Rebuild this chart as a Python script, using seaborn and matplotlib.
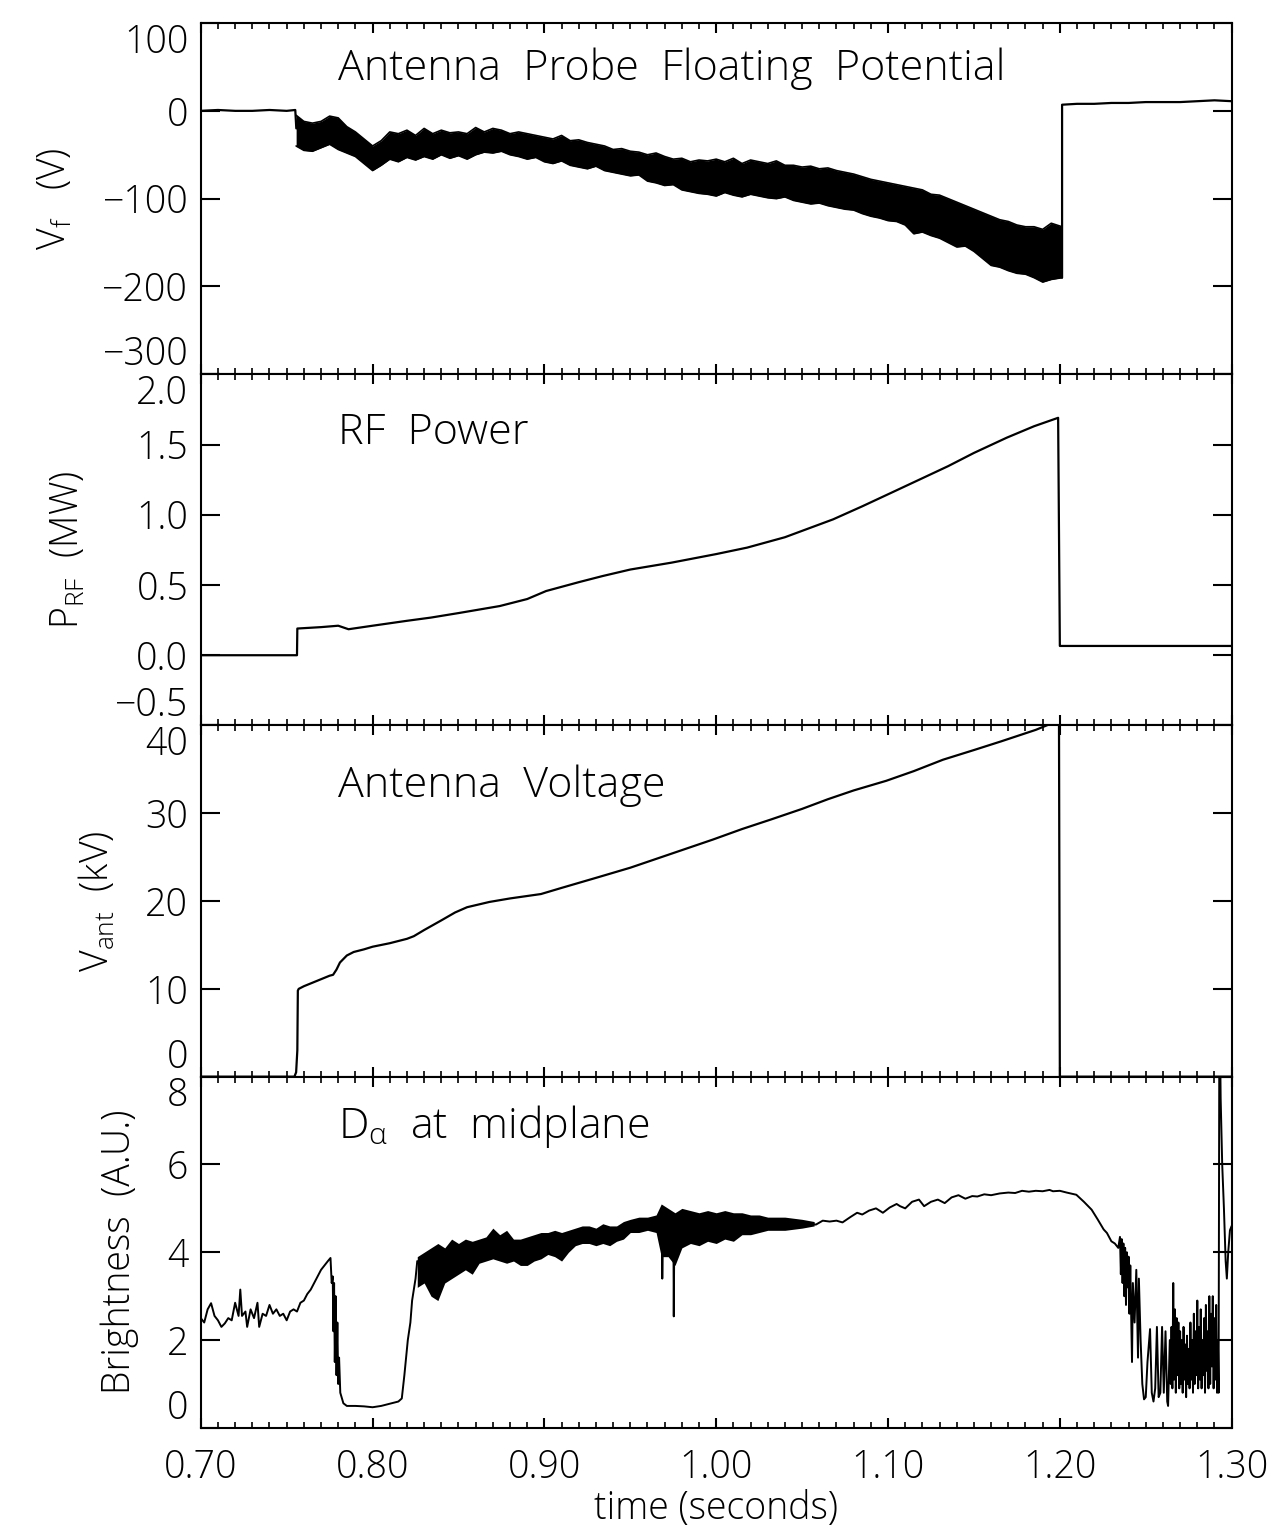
import numpy as np
import matplotlib
matplotlib.use("Agg")
import matplotlib.pyplot as plt
import seaborn as sns

# ---- data ----
# panel 1: antenna probe floating potential (V)
vf_pre_t = [0.700, 0.710, 0.720, 0.730, 0.740, 0.750, 0.7550, 0.7556]
vf_pre_v = [0, 1, 0, 0, 1, 0, 1, -20]
vf_post_t = [1.2013, 1.2013, 1.210, 1.220, 1.230, 1.240, 1.250, 1.260, 1.270, 1.280, 1.290, 1.300]
vf_post_v = [-190, 7, 8, 8, 9, 9, 10, 10, 10, 11, 12, 11]
# noise envelope of the floating potential while RF is on
vf_band_t = [0.7555, 0.760, 0.765, 0.770, 0.775, 0.780, 0.785, 0.790, 0.795, 0.800,
             0.805, 0.810, 0.815, 0.820, 0.825, 0.830, 0.835, 0.840, 0.845, 0.850,
             0.855, 0.860, 0.865, 0.870, 0.875, 0.880, 0.885, 0.890, 0.895, 0.900,
             0.905, 0.910, 0.915, 0.920, 0.925, 0.930, 0.935, 0.940, 0.945, 0.950,
             0.955, 0.960, 0.965, 0.970, 0.975, 0.980, 0.985, 0.990, 0.995, 1.000,
             1.005, 1.010, 1.015, 1.020, 1.025, 1.030, 1.035, 1.040, 1.045, 1.050,
             1.055, 1.060, 1.065, 1.070, 1.075, 1.080, 1.085, 1.090, 1.095, 1.100,
             1.105, 1.110, 1.115, 1.120, 1.125, 1.130, 1.135, 1.140, 1.145, 1.150,
             1.155, 1.160, 1.165, 1.170, 1.175, 1.180, 1.185, 1.190, 1.195, 1.2013]
vf_band_lo = [-40, -45, -46, -42, -38, -44, -48, -52, -60, -68,
              -62, -55, -58, -53, -56, -52, -55, -50, -54, -51,
              -55, -50, -47, -48, -46, -50, -52, -55, -53, -58,
              -60, -57, -62, -64, -66, -63, -68, -70, -72, -74,
              -73, -80, -82, -85, -84, -90, -92, -94, -95, -97,
              -93, -96, -98, -95, -97, -99, -100, -98, -102, -104,
              -106, -105, -108, -110, -112, -113, -117, -120, -122, -125,
              -126, -130, -140, -138, -142, -145, -150, -155, -154, -160,
              -168, -176, -178, -182, -185, -186, -190, -195, -192, -190]
vf_band_hi = [-5, -12, -14, -12, -6, -8, -18, -24, -32, -40,
              -34, -24, -26, -22, -28, -20, -26, -22, -25, -24,
              -26, -19, -24, -20, -22, -26, -24, -26, -28, -30,
              -32, -28, -34, -33, -36, -38, -40, -44, -43, -46,
              -47, -50, -48, -52, -55, -54, -58, -56, -57, -55,
              -58, -54, -60, -56, -58, -60, -57, -62, -62, -64,
              -63, -66, -65, -68, -70, -72, -75, -78, -80, -82,
              -84, -86, -88, -90, -95, -96, -100, -104, -108, -112,
              -116, -120, -124, -126, -130, -132, -132, -135, -128, -132]

# panel 2: RF power (MW)
rf_t = [0.700, 0.7560, 0.7562, 0.770, 0.780, 0.786, 0.800, 0.820, 0.834, 0.850,
        0.874, 0.890, 0.901, 0.920, 0.934, 0.950, 0.974, 1.000, 1.018, 1.040,
        1.068, 1.085, 1.102, 1.120, 1.135, 1.150, 1.169, 1.185, 1.199, 1.2000, 1.300]
rf_v = [0.00, 0.00, 0.19, 0.20, 0.21, 0.185, 0.21, 0.245, 0.268, 0.30,
        0.35, 0.40, 0.457, 0.52, 0.564, 0.61, 0.659, 0.72, 0.766, 0.84,
        0.967, 1.06, 1.157, 1.26, 1.346, 1.44, 1.548, 1.63, 1.69, 0.066, 0.066]

# panel 3: antenna voltage (kV)
va_t = [0.700, 0.7545, 0.7555, 0.7562, 0.7565, 0.757, 0.760, 0.765, 0.770, 0.775,
        0.777, 0.779, 0.781, 0.785, 0.789, 0.795, 0.800, 0.810, 0.820, 0.824,
        0.830, 0.840, 0.848, 0.855, 0.868, 0.880, 0.898, 0.910, 0.931, 0.950,
        0.965, 0.980, 0.998, 1.015, 1.032, 1.050, 1.065, 1.080, 1.099, 1.115,
        1.132, 1.150, 1.166, 1.186, 1.196, 1.1995, 1.2000, 1.300]
va_v = [0.0, 0.0, 0.5, 3.0, 9.8, 10.0, 10.3, 10.7, 11.1, 11.5,
        11.6, 12.2, 13.0, 13.8, 14.2, 14.5, 14.8, 15.2, 15.7, 16.0,
        16.7, 17.8, 18.7, 19.3, 19.9, 20.3, 20.8, 21.5, 22.7, 23.8,
        24.8, 25.8, 27.0, 28.2, 29.3, 30.5, 31.6, 32.6, 33.7, 34.8,
        36.1, 37.2, 38.2, 39.5, 40.3, 40.5, 0.0, 0.0]

# panel 4: D-alpha brightness at midplane (A.U.)
da_t = [0.700, 0.702, 0.704, 0.706, 0.708, 0.710, 0.712, 0.714, 0.716, 0.718,
        0.720, 0.722, 0.723, 0.724, 0.726, 0.727, 0.729, 0.731, 0.733, 0.734,
        0.736, 0.738, 0.740, 0.742, 0.744, 0.746, 0.748, 0.750, 0.752, 0.754,
        0.756, 0.758, 0.760, 0.762, 0.764, 0.766, 0.768, 0.770, 0.772, 0.774,
        0.7755, 0.7762, 0.7768, 0.7772, 0.7776, 0.7780, 0.7785, 0.7790, 0.7795, 0.7800,
        0.7805, 0.7812, 0.7830, 0.785, 0.790, 0.795, 0.800, 0.805, 0.810, 0.815,
        0.817, 0.8185, 0.8205, 0.8220, 0.8230, 0.8250, 0.8260, 0.830, 0.835, 0.840,
        0.845, 0.850, 0.855, 0.860, 0.865, 0.870, 0.875, 0.880, 0.885, 0.890,
        0.895, 0.900, 0.905, 0.910, 0.915, 0.920, 0.925, 0.930, 0.935, 0.940,
        0.945, 0.950, 0.955, 0.960, 0.965, 0.9684, 0.9686, 0.9690, 0.9720, 0.9751,
        0.9753, 0.9756, 0.980, 0.985, 0.990, 0.995, 1.000, 1.005, 1.010, 1.015,
        1.020, 1.025, 1.030, 1.035, 1.040, 1.045, 1.050, 1.055, 1.058, 1.062,
        1.066, 1.070, 1.0735, 1.078, 1.082, 1.085, 1.089, 1.093, 1.097, 1.101,
        1.105, 1.107, 1.110, 1.114, 1.118, 1.121, 1.125, 1.129, 1.133, 1.137,
        1.141, 1.145, 1.149, 1.152, 1.156, 1.160, 1.165, 1.170, 1.174, 1.178,
        1.182, 1.186, 1.190, 1.194, 1.196, 1.200, 1.204, 1.2096, 1.214, 1.2185,
        1.222, 1.2255, 1.2274, 1.230, 1.232, 1.234, 1.2350, 1.2355, 1.2360, 1.2365,
        1.2370, 1.2375, 1.2380, 1.2385, 1.2390, 1.2395, 1.2400, 1.2405, 1.2410, 1.2420,
        1.2425, 1.2435, 1.2445, 1.2455, 1.2460, 1.2470, 1.2480, 1.2490, 1.2500, 1.2510,
        1.2525, 1.2535, 1.2545, 1.2555, 1.2565, 1.2575, 1.2585, 1.2595, 1.2605, 1.2615,
        1.2625, 1.2630, 1.2640, 1.2645, 1.2650, 1.2655, 1.2660, 1.2665, 1.2670, 1.2675,
        1.2680, 1.2685, 1.2690, 1.2695, 1.2700, 1.2705, 1.2710, 1.2715, 1.2720, 1.2725,
        1.2730, 1.2735, 1.2740, 1.2745, 1.2750, 1.2755, 1.2760, 1.2765, 1.2770, 1.2775,
        1.2780, 1.2785, 1.2790, 1.2795, 1.2800, 1.2805, 1.2810, 1.2815, 1.2820, 1.2825,
        1.2830, 1.2835, 1.2840, 1.2845, 1.2850, 1.2855, 1.2860, 1.2865, 1.2870, 1.2875,
        1.2880, 1.2885, 1.2890, 1.2895, 1.2900, 1.2905, 1.2910, 1.2915, 1.2920, 1.2924,
        1.2928, 1.2933, 1.2936, 1.2945, 1.2955, 1.2965, 1.2972, 1.2980, 1.2990, 1.3000]
da_v = [2.50, 2.40, 2.70, 2.84, 2.55, 2.45, 2.30, 2.38, 2.50, 2.45,
        2.85, 2.55, 3.15, 2.55, 2.65, 2.30, 2.70, 2.50, 2.85, 2.30,
        2.60, 2.55, 2.80, 2.60, 2.70, 2.55, 2.60, 2.45, 2.65, 2.70,
        2.65, 2.85, 2.90, 3.05, 3.15, 3.30, 3.45, 3.60, 3.70, 3.80,
        3.87, 3.30, 3.45, 2.20, 3.30, 1.50, 3.00, 1.20, 2.40, 1.00,
        1.60, 0.80, 0.56, 0.50, 0.50, 0.49, 0.47, 0.50, 0.55, 0.60,
        0.67, 1.20, 2.00, 2.40, 2.90, 3.40, 3.80, 3.55, 3.60, 3.70,
        3.75, 3.85, 3.90, 4.00, 4.05, 4.10, 4.15, 4.00, 4.05, 4.05,
        4.10, 4.20, 4.15, 4.20, 4.25, 4.35, 4.40, 4.35, 4.40, 4.35,
        4.45, 4.55, 4.60, 4.60, 4.65, 4.60, 3.40, 4.60, 4.50, 4.40,
        2.54, 4.40, 4.55, 4.50, 4.60, 4.60, 4.55, 4.65, 4.60, 4.70,
        4.65, 4.60, 4.65, 4.60, 4.62, 4.65, 4.60, 4.65, 4.63, 4.72,
        4.70, 4.72, 4.68, 4.80, 4.90, 4.86, 4.95, 5.00, 4.90, 5.02,
        5.10, 5.05, 5.00, 5.15, 5.20, 5.05, 5.15, 5.20, 5.12, 5.25,
        5.30, 5.22, 5.28, 5.27, 5.32, 5.30, 5.34, 5.36, 5.35, 5.40,
        5.38, 5.40, 5.39, 5.42, 5.39, 5.40, 5.36, 5.31, 5.15, 4.97,
        4.75, 4.52, 4.44, 4.25, 4.20, 4.10, 4.35, 3.50, 4.30, 3.30,
        4.20, 3.00, 4.10, 2.80, 4.00, 3.20, 3.90, 2.60, 3.70, 1.50,
        3.30, 2.40, 3.60, 1.60, 3.40, 2.00, 1.00, 0.65, 0.70, 1.50,
        2.25, 0.80, 0.60, 0.90, 2.30, 0.70, 0.80, 2.30, 0.80, 2.20,
        0.60, 0.50, 2.00, 1.00, 2.30, 0.90, 3.30, 1.10, 2.70, 0.80,
        2.50, 1.20, 2.40, 0.90, 2.20, 1.00, 2.00, 0.80, 2.30, 1.10,
        1.90, 0.70, 2.10, 1.00, 1.80, 0.90, 2.40, 1.10, 2.00, 0.80,
        2.60, 1.00, 2.20, 1.20, 2.90, 0.90, 2.30, 1.10, 2.70, 0.90,
        2.00, 1.20, 2.50, 0.80, 2.80, 1.30, 2.20, 0.90, 3.00, 1.00,
        2.60, 1.40, 3.00, 0.90, 2.50, 1.10, 2.80, 0.80, 2.00, 0.80,
        8.60, 8.60, 7.50, 6.00, 5.00, 3.80, 3.40, 4.00, 4.50, 4.60]
# noise envelope of D-alpha after the L-H back transition
da_band_t = [0.826, 0.830, 0.834, 0.838, 0.842, 0.846, 0.850, 0.854, 0.858, 0.862,
             0.866, 0.870, 0.874, 0.878, 0.882, 0.886, 0.890, 0.894, 0.898, 0.902,
             0.906, 0.910, 0.914, 0.918, 0.922, 0.926, 0.930, 0.934, 0.938, 0.942,
             0.946, 0.950, 0.955, 0.960, 0.965, 0.968, 0.972, 0.976, 0.980, 0.985,
             0.990, 0.995, 1.000, 1.005, 1.010, 1.015, 1.020, 1.025, 1.030, 1.040,
             1.050, 1.057]
da_band_lo = [3.20, 3.30, 3.00, 2.90, 3.30, 3.40, 3.50, 3.60, 3.50, 3.75,
              3.80, 3.85, 3.80, 3.75, 3.80, 3.70, 3.70, 3.80, 3.85, 3.95,
              3.90, 3.80, 4.00, 4.15, 4.20, 4.20, 4.15, 4.20, 4.15, 4.25,
              4.30, 4.45, 4.45, 4.50, 4.45, 3.90, 3.90, 3.70, 4.10, 4.20,
              4.15, 4.25, 4.20, 4.30, 4.25, 4.40, 4.40, 4.45, 4.50, 4.50,
              4.55, 4.60]
da_band_hi = [3.90, 4.00, 4.10, 4.20, 4.10, 4.30, 4.20, 4.30, 4.25, 4.30,
              4.35, 4.55, 4.40, 4.50, 4.30, 4.30, 4.35, 4.40, 4.45, 4.45,
              4.50, 4.45, 4.50, 4.55, 4.60, 4.60, 4.55, 4.65, 4.60, 4.60,
              4.70, 4.75, 4.80, 4.80, 4.85, 5.10, 5.00, 4.90, 5.00, 4.95,
              4.90, 4.95, 4.90, 4.95, 4.90, 4.90, 4.85, 4.85, 4.80, 4.80,
              4.75, 4.70]

time_ticks = [0.70, 0.80, 0.90, 1.00, 1.10, 1.20, 1.30]
time_labels = ["0.70", "0.80", "0.90", "1.00", "1.10", "1.20", "1.30"]

panels = [
    dict(title="Antenna  Probe  Floating  Potential", ylabel=r"V$_\mathregular{f}$   (V)",
         ylim=(-300, 100), ticks=[-300, -200, -100, 0, 100],
         labels=["\u2212300", "\u2212200", "\u2212100", "0", "100"], ty=0.93),
    dict(title="RF  Power", ylabel=r"P$_\mathregular{RF}$  (MW)",
         ylim=(-0.5, 2.0), ticks=[-0.5, 0.0, 0.5, 1.0, 1.5, 2.0],
         labels=["\u22120.5", "0.0", "0.5", "1.0", "1.5", "2.0"], ty=0.895),
    dict(title="Antenna  Voltage", ylabel=r"V$_\mathregular{ant}$  (kV)",
         ylim=(0, 40), ticks=[0, 10, 20, 30, 40],
         labels=["0", "10", "20", "30", "40"], ty=0.89),
    dict(title=r"D$_\alpha$  at  midplane", ylabel="Brightness  (A.U.)",
         ylim=(0, 8), ticks=[0, 2, 4, 6, 8],
         labels=["0", "2", "4", "6", "8"], ty=0.925),
]

sns.set_style("white")
plt.rcParams["font.family"] = ["Open Sans", "DejaVu Sans"]
plt.rcParams["font.weight"] = "light"
plt.rcParams["axes.labelweight"] = "light"
plt.rcParams["mathtext.default"] = "regular"
plt.rcParams["axes.linewidth"] = 1.5
for key in ["text.color", "axes.labelcolor", "xtick.color", "ytick.color", "axes.edgecolor"]:
    plt.rcParams[key] = "black"

fig, axes = plt.subplots(4, 1, sharex=True, figsize=(12.87, 15.37), dpi=100)
fig.subplots_adjust(left=0.156, right=0.957, top=0.985, bottom=0.071, hspace=0)

lw = 1.6
ax = axes[0]
ax.fill_between(vf_band_t, vf_band_lo, vf_band_hi, color="black", lw=0)
sns.lineplot(x=vf_band_t, y=vf_band_lo, ax=ax, color="black", lw=1.2, estimator=None, sort=False)
sns.lineplot(x=vf_band_t, y=vf_band_hi, ax=ax, color="black", lw=1.2, estimator=None, sort=False)
sns.lineplot(x=vf_pre_t, y=vf_pre_v, ax=ax, color="black", lw=lw, estimator=None, sort=False)
sns.lineplot(x=vf_post_t, y=vf_post_v, ax=ax, color="black", lw=lw, estimator=None, sort=False)

sns.lineplot(x=rf_t, y=rf_v, ax=axes[1], color="black", lw=lw, estimator=None, sort=False)
sns.lineplot(x=va_t, y=va_v, ax=axes[2], color="black", lw=lw, estimator=None, sort=False)

ax = axes[3]
ax.fill_between(da_band_t, da_band_lo, da_band_hi, color="black", lw=0)
sns.lineplot(x=da_t, y=da_v, ax=ax, color="black", lw=1.4, estimator=None, sort=False)

for ax, p in zip(axes, panels):
    ax.set_xlim(0.70, 1.30)
    ax.set_ylim(*p["ylim"])
    ax.set_yticks(p["ticks"], p["labels"])
    ax.set_xticks(np.arange(0.70, 1.3001, 0.01), minor=True)
    ax.tick_params(axis="y", which="major", direction="in", length=14, width=1.5,
                   left=True, right=True, labelsize=27, pad=9)
    ax.tick_params(axis="x", which="major", direction="in", length=7, width=1.5,
                   top=True, bottom=True)
    ax.tick_params(axis="x", which="minor", direction="in", length=4, width=1.2,
                   top=True, bottom=True)
    labs = ax.get_yticklabels()
    labs[0].set_va("bottom")
    labs[-1].set_va("top")
    ax.set_ylabel(p["ylabel"], fontsize=27, labelpad=20)
    ax.text(0.78, p["ty"], p["title"], transform=ax.get_xaxis_transform(),
            fontsize=31, va="top", ha="left")

axes[3].set_xticks(time_ticks, time_labels)
axes[3].tick_params(axis="x", labelsize=27, pad=15)
axes[3].set_xlabel("time (seconds)", fontsize=27, labelpad=2)

fig.savefig("out.png", dpi=100)
